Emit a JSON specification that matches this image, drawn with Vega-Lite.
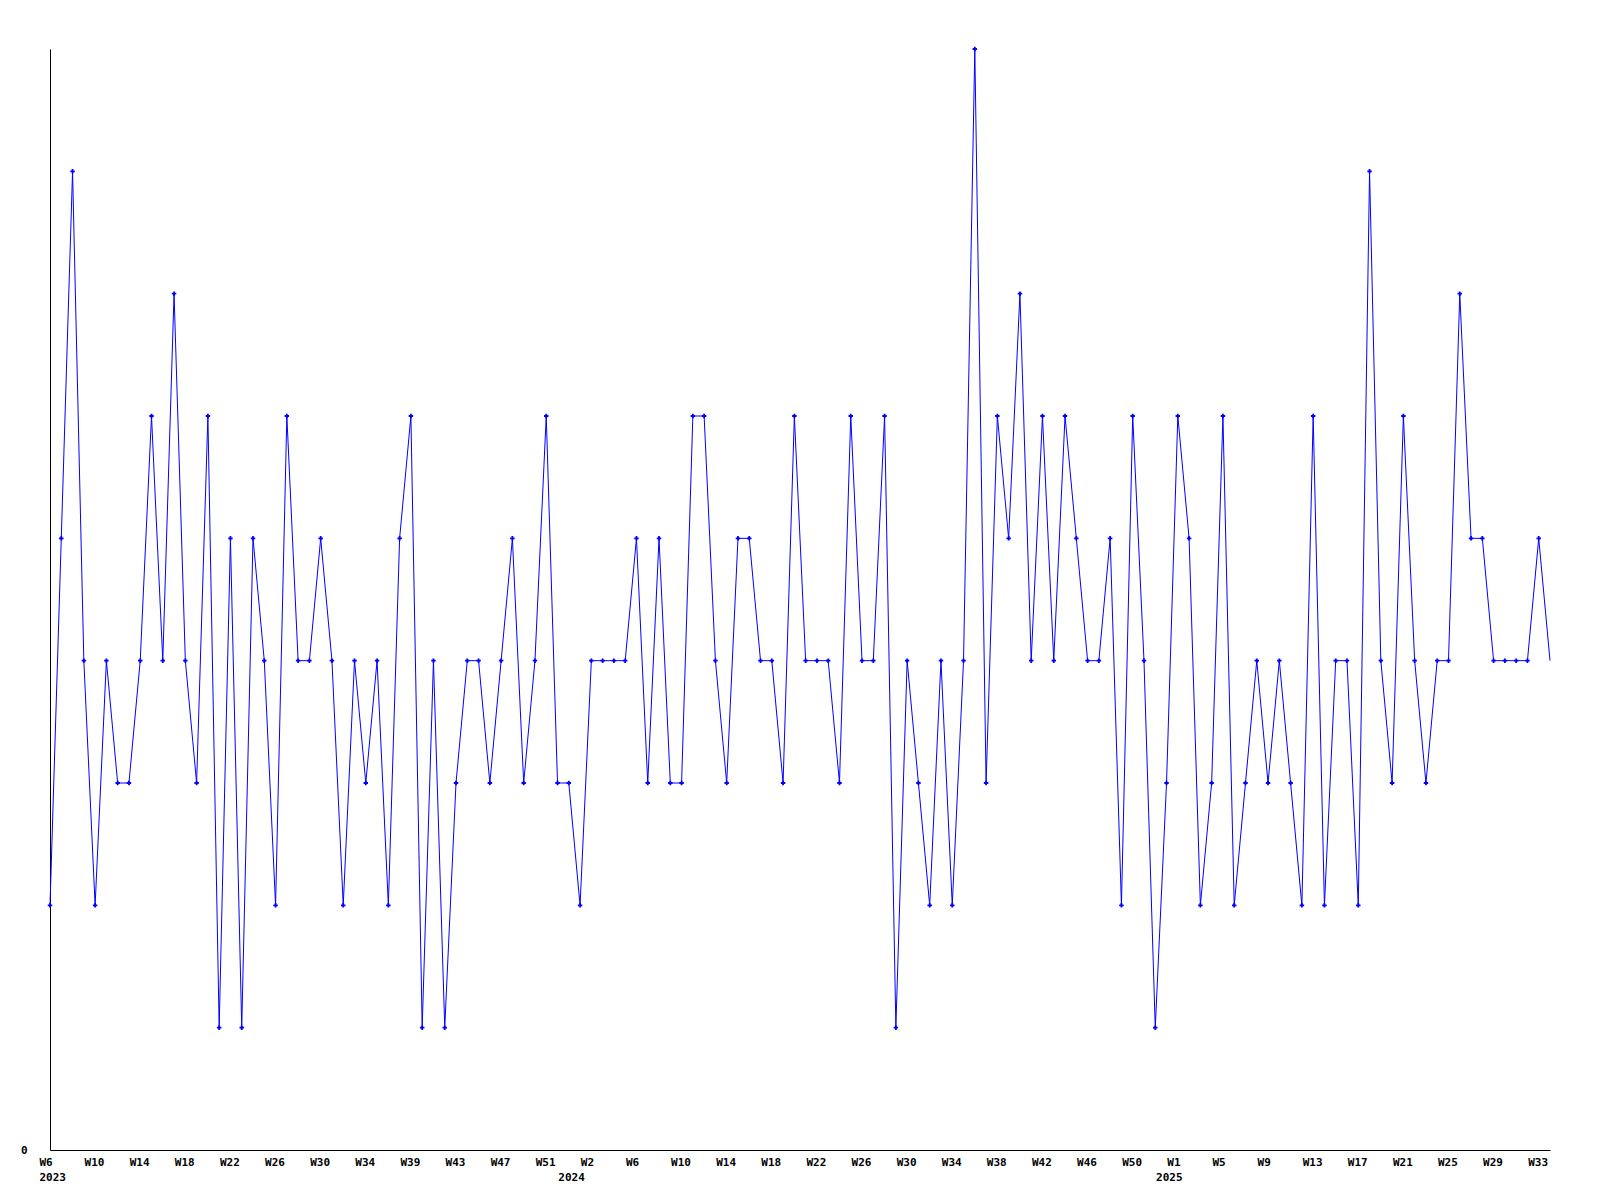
{
  "$schema": "https://vega.github.io/schema/vega-lite/v6.json",
  "width": 1500,
  "height": 1101,
  "autosize": {"type": "none"},
  "padding": {"left": 50, "top": 49, "right": 50, "bottom": 50},
  "background": "white",
  "config": {"view": {"stroke": null}},
  "data": {"values": [
    {"idx":0,"value":2},{"idx":1,"value":5},{"idx":2,"value":8},{"idx":3,"value":4},{"idx":4,"value":2},{"idx":5,"value":4},{"idx":6,"value":3},{"idx":7,"value":3},{"idx":8,"value":4},{"idx":9,"value":6},
    {"idx":10,"value":4},{"idx":11,"value":7},{"idx":12,"value":4},{"idx":13,"value":3},{"idx":14,"value":6},{"idx":15,"value":1},{"idx":16,"value":5},{"idx":17,"value":1},{"idx":18,"value":5},{"idx":19,"value":4},
    {"idx":20,"value":2},{"idx":21,"value":6},{"idx":22,"value":4},{"idx":23,"value":4},{"idx":24,"value":5},{"idx":25,"value":4},{"idx":26,"value":2},{"idx":27,"value":4},{"idx":28,"value":3},{"idx":29,"value":4},
    {"idx":30,"value":2},{"idx":31,"value":5},{"idx":32,"value":6},{"idx":33,"value":1},{"idx":34,"value":4},{"idx":35,"value":1},{"idx":36,"value":3},{"idx":37,"value":4},{"idx":38,"value":4},{"idx":39,"value":3},
    {"idx":40,"value":4},{"idx":41,"value":5},{"idx":42,"value":3},{"idx":43,"value":4},{"idx":44,"value":6},{"idx":45,"value":3},{"idx":46,"value":3},{"idx":47,"value":2},{"idx":48,"value":4},{"idx":49,"value":4},
    {"idx":50,"value":4},{"idx":51,"value":4},{"idx":52,"value":5},{"idx":53,"value":3},{"idx":54,"value":5},{"idx":55,"value":3},{"idx":56,"value":3},{"idx":57,"value":6},{"idx":58,"value":6},{"idx":59,"value":4},
    {"idx":60,"value":3},{"idx":61,"value":5},{"idx":62,"value":5},{"idx":63,"value":4},{"idx":64,"value":4},{"idx":65,"value":3},{"idx":66,"value":6},{"idx":67,"value":4},{"idx":68,"value":4},{"idx":69,"value":4},
    {"idx":70,"value":3},{"idx":71,"value":6},{"idx":72,"value":4},{"idx":73,"value":4},{"idx":74,"value":6},{"idx":75,"value":1},{"idx":76,"value":4},{"idx":77,"value":3},{"idx":78,"value":2},{"idx":79,"value":4},
    {"idx":80,"value":2},{"idx":81,"value":4},{"idx":82,"value":9},{"idx":83,"value":3},{"idx":84,"value":6},{"idx":85,"value":5},{"idx":86,"value":7},{"idx":87,"value":4},{"idx":88,"value":6},{"idx":89,"value":4},
    {"idx":90,"value":6},{"idx":91,"value":5},{"idx":92,"value":4},{"idx":93,"value":4},{"idx":94,"value":5},{"idx":95,"value":2},{"idx":96,"value":6},{"idx":97,"value":4},{"idx":98,"value":1},{"idx":99,"value":3},
    {"idx":100,"value":6},{"idx":101,"value":5},{"idx":102,"value":2},{"idx":103,"value":3},{"idx":104,"value":6},{"idx":105,"value":2},{"idx":106,"value":3},{"idx":107,"value":4},{"idx":108,"value":3},{"idx":109,"value":4},
    {"idx":110,"value":3},{"idx":111,"value":2},{"idx":112,"value":6},{"idx":113,"value":2},{"idx":114,"value":4},{"idx":115,"value":4},{"idx":116,"value":2},{"idx":117,"value":8},{"idx":118,"value":4},{"idx":119,"value":3},
    {"idx":120,"value":6},{"idx":121,"value":4},{"idx":122,"value":3},{"idx":123,"value":4},{"idx":124,"value":4},{"idx":125,"value":7},{"idx":126,"value":5},{"idx":127,"value":5},{"idx":128,"value":4},{"idx":129,"value":4},
    {"idx":130,"value":4},{"idx":131,"value":4},{"idx":132,"value":5},{"idx":133,"value":4}
  ]},
  "resolve": {"axis": {"x": "independent", "y": "independent"}},
  "layer": [
    {
      "mark": {"type": "line", "color": "#0000ff", "strokeWidth": 1},
      "encoding": {
        "x": {
          "field": "idx", "type": "quantitative",
          "scale": {"domain": [0, 133], "nice": false, "zero": false},
          "axis": {
            "orient": "bottom",
            "title": null, "grid": false, "ticks": false, "tickSize": 0,
            "domainColor": "black", "domainWidth": 1,
            "values": [0,4,8,12,16,20,24,28,32,36,40,44,48,52,56,60,64,68,72,76,80,84,88,92,96,100,104,108,112,116,120,124,128,132],
            "labelExpr": "['W6','W10','W14','W18','W22','W26','W30','W34','W39','W43','W47','W51','W2','W6','W10','W14','W18','W22','W26','W30','W34','W38','W42','W46','W50','W1','W5','W9','W13','W17','W21','W25','W29','W33'][round(datum.value/4)]",
            "labelAlign": "left", "labelBaseline": "top", "labelOffset": -11, "labelPadding": 6,
            "labelFont": "DejaVu Sans Mono", "labelFontSize": 11, "labelFontWeight": "bold", "labelColor": "black",
            "labelOverlap": false, "labelBound": false, "labelFlush": false
          }
        },
        "y": {
          "field": "value", "type": "quantitative",
          "scale": {"domain": [0, 9], "nice": false, "zero": true},
          "axis": {
            "orient": "left",
            "title": null, "grid": false, "ticks": false, "tickSize": 0,
            "domainColor": "black", "domainWidth": 1,
            "values": [0],
            "labelPadding": 23, "labelBaseline": "middle",
            "labelFont": "DejaVu Sans Mono", "labelFontSize": 11, "labelFontWeight": "bold", "labelColor": "black",
            "labelOverlap": false, "labelBound": false, "labelFlush": false
          }
        }
      }
    },
    {
      "transform": [{"filter": "datum.idx < 133"}],
      "mark": {"type": "point", "shape": "cross", "filled": true, "color": "#0000ff", "size": 20, "opacity": 1},
      "encoding": {
        "x": {"field": "idx", "type": "quantitative", "axis": null},
        "y": {"field": "value", "type": "quantitative", "axis": null}
      }
    },
    {
      "transform": [{"filter": "datum.idx == 0"}],
      "mark": {"type": "point", "opacity": 0},
      "encoding": {
        "x": {
          "field": "idx", "type": "quantitative",
          "axis": {
            "orient": "bottom",
            "title": null, "grid": false, "ticks": false, "tickSize": 0, "domain": false,
            "values": [0, 46, 99],
            "labelExpr": "datum.value == 0 ? '2023' : datum.value == 46 ? '2024' : '2025'",
            "labelAlign": "left", "labelBaseline": "top", "labelOffset": -11, "labelPadding": 21,
            "labelFont": "DejaVu Sans Mono", "labelFontSize": 11, "labelFontWeight": "bold", "labelColor": "black",
            "labelOverlap": false, "labelBound": false, "labelFlush": false
          }
        },
        "y": {"field": "value", "type": "quantitative", "axis": null}
      }
    }
  ]
}
